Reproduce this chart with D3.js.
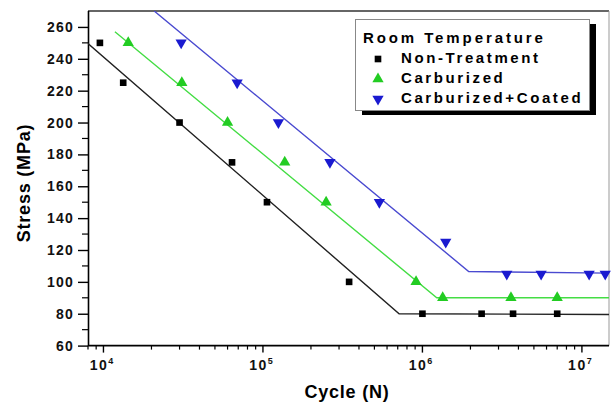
<!DOCTYPE html>
<html>
<head>
<meta charset="utf-8">
<script src="https://cdn.jsdelivr.net/npm/d3@7"></script>
<style>
  body { margin: 0; background: #fff; }
  text { font-family: "Liberation Sans", Arial, sans-serif; font-weight: bold; }
</style>
</head>
<body>
<div id="chart"></div>
<script>
// ---- data ----
var seriesNames = ["Non-Treatment", "Carburized", "Carburized+Coated"];

var nonTreatCycles = [9500, 13300, 30000, 64000, 106000, 347000, 1000000, 2350000, 3700000, 7000000];
var nonTreatStress = [250, 225, 200, 175, 150, 100, 80, 80, 80, 80];

var carbCycles = [14300, 31000, 60000, 137000, 249000, 912000, 1340000, 3590000, 7000000];
var carbStress = [250, 225, 200, 175, 150, 100, 90, 90, 90];

var coatCycles = [30700, 68900, 125000, 263000, 537000, 1400000, 3380000, 5550000, 11100000, 14000000];
var coatStress = [250, 225, 200, 175, 150, 125, 105, 105, 105, 105];

// fitted S-N lines (start, knee, end)
var nonTreatFitN = [8000, 714000, 15000000];
var nonTreatFitS = [249.6, 80, 79.5];
var carbFitN = [11800, 1230000, 15000000];
var carbFitS = [257, 90, 90];
var coatFitN = [20800, 1950000, 15000000];
var coatFitS = [270, 106.5, 105.5];

var yTicks = [60, 80, 100, 120, 140, 160, 180, 200, 220, 240, 260];
var xDecades = [1e4, 1e5, 1e6, 1e7];
var xDecadeLabels = ["4", "5", "6", "7"];

// ---- layout ----
var W = 611, H = 405;
var pLeft = 88, pRight = 609, pTop = 11, pBottom = 345.6;

var x = d3.scaleLog().domain([8000, 15000000]).range([pLeft, pRight + 1]);
var y = d3.scaleLinear().domain([60, 270]).range([pBottom, pTop]);

var svg = d3.select("#chart").append("svg")
  .attr("width", W).attr("height", H);

svg.append("clipPath").attr("id", "plotclip")
  .append("rect").attr("x", pLeft).attr("y", pTop).attr("width", pRight - pLeft).attr("height", pBottom - pTop);

// frame: top + right borders (gray)
svg.append("line").attr("x1", pLeft).attr("x2", pRight).attr("y1", pTop).attr("y2", pTop)
  .style("stroke", "#666").style("stroke-width", 2);
svg.append("line").attr("x1", pRight).attr("x2", pRight).attr("y1", pTop).attr("y2", pBottom)
  .style("stroke", "#999").style("stroke-width", 1);

// ---- y axis ----
var yMinor = d3.range(70, 270, 20);
var yAxis = d3.axisLeft(y).tickValues(yTicks).tickSize(10).tickFormat(d3.format("d")).tickPadding(4);
var gy = svg.append("g").attr("transform", "translate(" + pLeft + ",0)").call(yAxis);
gy.select(".domain").attr("d", "M0.5," + pTop + "V" + pBottom).style("stroke", "#000").style("stroke-width", 1.6);
gy.selectAll(".tick line").style("stroke", "#000").style("stroke-width", 1.4);
gy.selectAll(".tick text").style("font-size", "14px").style("letter-spacing", "1.2px").attr("fill", "#111");
gy.selectAll(".minor").data(yMinor).enter().append("line")
  .attr("x1", 0).attr("x2", -6).attr("y1", function(d){ return y(d); }).attr("y2", function(d){ return y(d); })
  .style("stroke", "#000").style("stroke-width", 1.2);

// ---- x axis ----
var xMinor = [];
[1e3, 1e4, 1e5, 1e6, 1e7].forEach(function(dec){
  for (var k = 2; k <= 9; k++) {
    var v = dec * k;
    if (v >= 8000 && v <= 15000000) xMinor.push(v);
  }
});
var gx = svg.append("g").attr("transform", "translate(0," + pBottom + ")");
gx.append("line").attr("x1", pLeft).attr("x2", pRight).attr("y1", 0).attr("y2", 0)
  .style("stroke", "#000").style("stroke-width", 1.6);
gx.selectAll(".major").data(xDecades).enter().append("line")
  .attr("x1", function(d){ return x(d); }).attr("x2", function(d){ return x(d); })
  .attr("y1", 0).attr("y2", 7).style("stroke", "#000").style("stroke-width", 1.4);
gx.selectAll(".minor").data(xMinor).enter().append("line")
  .attr("x1", function(d){ return x(d); }).attr("x2", function(d){ return x(d); })
  .attr("y1", 0).attr("y2", 4).style("stroke", "#000").style("stroke-width", 1.2);
var xl = gx.selectAll(".lab").data(xDecades).enter().append("text")
  .attr("x", function(d){ return x(d) - 2; }).attr("y", 24)
  .attr("text-anchor", "middle").style("font-size", "14px").attr("fill", "#111");
xl.append("tspan").style("letter-spacing", "1.5px").text("10");
xl.append("tspan").attr("dy", -6).style("font-size", "9px")
  .text(function(d, i){ return xDecadeLabels[i]; });

// axis titles
svg.append("text").attr("x", 347).attr("y", 398).attr("text-anchor", "middle")
  .style("font-size", "18px").style("letter-spacing", "0.8px").text("Cycle (N)");
svg.append("text").attr("transform", "translate(30,183) rotate(-90)").attr("text-anchor", "middle")
  .style("font-size", "18px").style("letter-spacing", "0.8px").text("Stress (MPa)");

// ---- series ----
var colors = ["#000000", "#22cc22", "#1a1ad0"];
var lineColors = ["#222222", "#44dd44", "#4a4ad0"];
var fits = [
  d3.zip(nonTreatFitN, nonTreatFitS),
  d3.zip(carbFitN, carbFitS),
  d3.zip(coatFitN, coatFitS)
];
var pts = [
  d3.zip(nonTreatCycles, nonTreatStress),
  d3.zip(carbCycles, carbStress),
  d3.zip(coatCycles, coatStress)
];

var line = d3.line().x(function(d){ return x(d[0]); }).y(function(d){ return y(d[1]); });
var plot = svg.append("g").attr("clip-path", "url(#plotclip)");
fits.forEach(function(f, i){
  plot.append("path").datum(f).attr("d", line)
    .style("fill", "none").style("stroke", lineColors[i]).style("stroke-width", 1.4);
});

var sym = [d3.symbolSquare, d3.symbolTriangle, d3.symbolTriangle];
var symSize = [44, 55, 55];
function marker(g, i) {
  g.attr("d", d3.symbol().type(sym[i]).size(symSize[i])())
   .style("fill", colors[i]);
}
pts.forEach(function(p, i){
  svg.append("g").selectAll("path").data(p).enter().append("path")
    .attr("transform", function(d){
      return "translate(" + x(d[0]) + "," + y(d[1]) + ")" + (i === 2 ? " rotate(180)" : "");
    })
    .call(marker, i);
});

// ---- legend ----
var lg = svg.append("g");
lg.append("rect").attr("x", 362).attr("y", 24).attr("width", 234).attr("height", 91).style("fill", "#000");
lg.append("rect").attr("x", 355.5).attr("y", 19.5).attr("width", 234).attr("height", 91)
  .style("fill", "#fff").style("stroke", "#888").style("stroke-width", 1);
lg.append("text").attr("x", 363).attr("y", 43).style("font-size", "15px").style("letter-spacing", "2.9px")
  .text("Room Temperature");
seriesNames.forEach(function(name, i){
  var yy = 63 + i * 20;
  lg.append("path")
    .attr("transform", "translate(378," + (yy - 4) + ")" + (i === 2 ? " rotate(180)" : ""))
    .call(marker, i);
  lg.append("text").attr("x", 401).attr("y", yy).style("font-size", "15px").style("letter-spacing", "2.6px")
    .text(name);
});
</script>
</body>
</html>
